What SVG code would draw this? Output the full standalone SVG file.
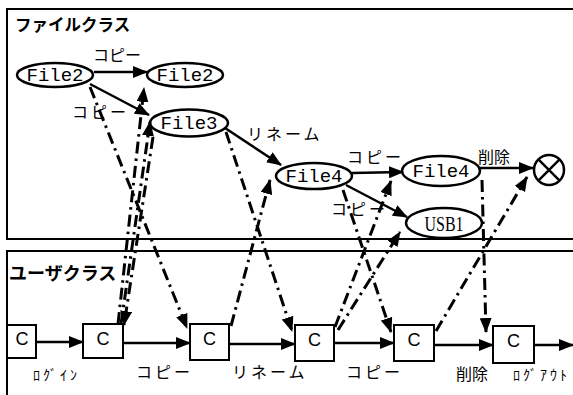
<svg xmlns="http://www.w3.org/2000/svg" width="573" height="395" viewBox="0 0 573 395">
<style>
.panel{fill:none;stroke:#000;stroke-width:2}
.title{font-family:"Noto Sans CJK JP",sans-serif;font-weight:bold;fill:#000}
.node ellipse{fill:#fff;stroke:#000;stroke-width:2.5}
.fname{font-family:"Liberation Mono",monospace;font-size:19px;text-anchor:middle;fill:#000}
.box rect{fill:#fff;stroke:#000;stroke-width:2}
.box text{font-family:"Liberation Sans",sans-serif;font-size:18px;text-anchor:middle}
.solid{stroke:#000;stroke-width:2.5;fill:none;marker-end:url(#ah)}
.dd{stroke:#000;stroke-width:3;fill:none;stroke-dasharray:12 5 2.5 5;marker-end:url(#ah)}
.lbl{font-family:"Noto Sans CJK JP",sans-serif;font-size:16px;fill:#000}
.sp{letter-spacing:3px}
.hw{font-size:14px;letter-spacing:3px}
</style>
<defs>
<marker id="ah" markerUnits="userSpaceOnUse" markerWidth="15" markerHeight="12" refX="14" refY="6" orient="auto">
<path d="M0,0 L15,6 L0,12 z" fill="#000"/>
</marker>
</defs>
<rect fill="#fff" width="573" height="395"/>

<g id="file-class">
<rect class="panel" x="7" y="9" width="580" height="230"/>
<text class="title" x="15" y="31" font-size="16.5">ファイルクラス</text>
</g>
<g id="user-class">
<rect class="panel" x="7" y="251" width="580" height="160"/>
<text class="title" x="9" y="280" font-size="18">ユーザクラス</text>
</g>

<g id="file2-a" class="node"><ellipse cx="55" cy="75" rx="38" ry="12"/><text class="fname" x="55" y="81">File2</text></g>
<g id="file2-b" class="node"><ellipse cx="185" cy="75" rx="38" ry="12"/><text class="fname" x="185" y="81">File2</text></g>
<g id="file3" class="node"><ellipse cx="189" cy="123" rx="39" ry="13.5"/><text class="fname" x="189" y="129">File3</text></g>
<g id="file4-a" class="node"><ellipse cx="314" cy="176" rx="38" ry="13"/><text class="fname" x="314" y="182">File4</text></g>
<g id="file4-b" class="node"><ellipse cx="441" cy="171" rx="39" ry="15"/><text class="fname" x="441" y="177">File4</text></g>
<g id="usb1" class="node"><ellipse cx="444" cy="223" rx="38" ry="15"/><text x="444" y="231" font-family="Liberation Serif,serif" font-size="20" text-anchor="middle" textLength="39" lengthAdjust="spacingAndGlyphs">USB1</text></g>
<g id="deleted" class="node"><circle cx="549" cy="170" r="15" fill="#fff" stroke="#000" stroke-width="2.5"/><path d="M538.4,159.4 L559.6,180.6 M559.6,159.4 L538.4,180.6" stroke="#000" stroke-width="2.5"/></g>

<g id="c1" class="box"><rect x="7" y="325" width="29" height="33"/><text x="22" y="345">C</text></g>
<g id="c2" class="box"><rect x="83" y="324" width="40" height="34"/><text x="103" y="345">C</text></g>
<g id="c3" class="box"><rect x="190" y="324" width="39" height="36"/><text x="209.5" y="345">C</text></g>
<g id="c4" class="box"><rect x="295" y="325" width="39" height="36"/><text x="314.5" y="346">C</text></g>
<g id="c5" class="box"><rect x="394" y="325" width="40" height="36"/><text x="414" y="346">C</text></g>
<g id="c6" class="box"><rect x="493" y="326" width="41" height="37"/><text x="513.5" y="347">C</text></g>

<g id="connectors">
<line class="solid" x1="94" y1="72" x2="147" y2="72"/>
<line class="solid" x1="90" y1="84" x2="149" y2="115"/>
<line class="solid" x1="225" y1="128" x2="281" y2="165"/>
<line class="solid" x1="352" y1="173" x2="403" y2="172"/>
<line class="solid" x1="346" y1="185" x2="407" y2="217"/>
<line class="solid" x1="480" y1="168" x2="533" y2="168"/>

<line class="solid" x1="36" y1="342" x2="83" y2="342"/>
<line class="solid" x1="123" y1="343" x2="190" y2="343"/>
<line class="solid" x1="229" y1="344" x2="295" y2="344"/>
<line class="solid" x1="334" y1="343" x2="394" y2="343"/>
<line class="solid" x1="434" y1="345" x2="493" y2="345"/>
<line class="solid" x1="534" y1="345" x2="573" y2="345"/>

<line class="dd" x1="90" y1="87" x2="187" y2="328"/>
<line class="dd" x1="118" y1="324" x2="144" y2="88"/>
<line class="dd" x1="121" y1="324" x2="150" y2="122"/>
<line class="dd" x1="153" y1="137" x2="124" y2="325"/>
<line class="dd" x1="226" y1="132" x2="292" y2="331"/>
<line class="dd" x1="231" y1="326" x2="270" y2="180"/>
<line class="dd" x1="343" y1="190" x2="391" y2="332"/>
<line class="dd" x1="335" y1="327" x2="391" y2="181"/>
<line class="dd" x1="338" y1="330" x2="400" y2="232"/>
<line class="dd" x1="482" y1="180" x2="486" y2="332"/>
<line class="dd" x1="436" y1="331" x2="527" y2="177"/>

<text class="lbl" x="93" y="61">コピー</text>
<text class="lbl sp" x="72" y="118">コピー</text>
<text class="lbl sp" x="247" y="140">リネーム</text>
<text class="lbl sp" x="347" y="163">コピー</text>
<text class="lbl sp" x="331" y="215">コピー</text>
<text class="lbl" x="478" y="163" font-size="17">削除</text>

<text class="lbl hw" x="33" y="380">ﾛｸﾞｲﾝ</text>
<text class="lbl sp" x="136" y="378">コピー</text>
<text class="lbl sp" x="232" y="378">リネーム</text>
<text class="lbl sp" x="346" y="378">コピー</text>
<text class="lbl" x="456" y="380" font-size="18">削除</text>
<text class="lbl hw" x="513" y="380">ﾛｸﾞｱｳﾄ</text>
</g>
</svg>
